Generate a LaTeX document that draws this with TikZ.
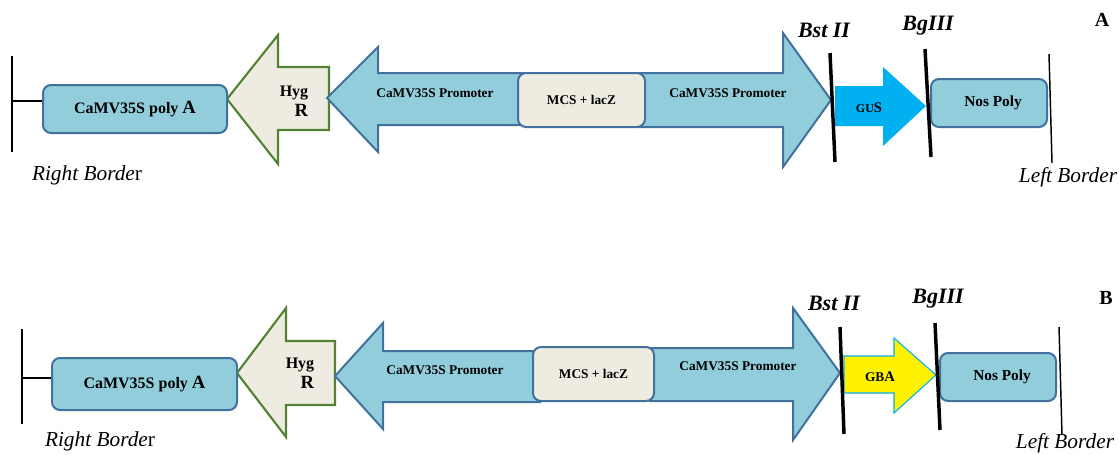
\documentclass[tikz,border=0pt]{standalone}
\usepackage{fontspec}
\setmainfont{Liberation Serif}
\definecolor{aqua}{HTML}{92CDDC}
\definecolor{edgeblue}{HTML}{41719C}
\definecolor{beige}{HTML}{EEECE1}
\definecolor{hyggreen}{HTML}{548235}
\definecolor{gusblue}{HTML}{00B0F0}
\begin{document}
\begin{tikzpicture}[x=0.75pt,y=-0.75pt,
    aquabox/.style={draw=edgeblue,fill=aqua,line width=1.5pt,rounded corners=6pt,inner sep=0pt},
    beigebox/.style={aquabox,fill=beige},
    promo/.style={draw=edgeblue,fill=aqua,line width=1.5pt,line join=miter},
    hyg/.style={draw=hyggreen,fill=beige,line width=1.6pt},
    cutline/.style={line width=2.6pt},
    borderline/.style={line width=1.1pt},
    lbl/.style={font=\bfseries\fontsize{10}{12}\selectfont},
    site/.style={font=\bfseries\itshape\fontsize{16.5}{18}\selectfont},
    brd/.style={font=\itshape\fontsize{16}{18}\selectfont}]
    \useasboundingbox (0,0) rectangle (1119,454);

    % A
    \draw [hyg] (227,99) -- (278,35) -- (278,67) -- (329,67) -- (329,130) -- (278,130) -- (278,164) -- cycle;
    \draw [promo] (327,98) -- (378,47) -- (378,73) -- (525,73) -- (525,125) -- (378,125) -- (378,152) -- cycle;
    \draw [promo] (640,73) -- (783,73) -- (783,33) -- (831,100) -- (783,167) -- (783,127) -- (640,127) -- cycle;
    \fill [gusblue] (835,86) -- (883,86) -- (883,67) -- (926,106) -- (883,146) -- (883,126) -- (835,126) -- cycle;
    \node [aquabox,minimum width=138pt,minimum height=36pt] (polyA) at (135,109)
        {\bfseries\fontsize{12}{14}\selectfont CaMV35S poly {\fontsize{14}{16}\selectfont A}};
    \node [beigebox,minimum width=95.25pt,minimum height=40.5pt] (mcsA) at (581.5,100)
        {\bfseries\fontsize{10}{12}\selectfont MCS + lacZ};
    \node [aquabox,minimum width=87pt,minimum height=36pt] (nosA) at (989,103)
        {\bfseries\fontsize{11.5}{13}\selectfont\hspace*{6pt}Nos Poly};
    \node [lbl,align=right,font=\bfseries\fontsize{12}{15}\selectfont] (hygA) at (294,101)
        {Hyg\\{\fontsize{14}{15}\selectfont R}};
    \node [lbl] (prlA) at (435,93) {CaMV35S Promoter};
    \node [lbl] (prrA) at (728,93) {CaMV35S Promoter};
    \node [lbl,font=\bfseries\fontsize{9}{11}\selectfont] (gusA) at (869,108) {GU{\fontsize{11}{12}\selectfont S}};
    \draw [cutline] (830,53) -- (835,162);
    \draw [cutline] (925,49) -- (931,157);
    \draw [borderline] (1049,54) -- (1052,163);
    \draw [borderline] (12,56) -- (12,152);
    \coordinate (rbA) at (12,101);
    \draw [borderline] (rbA) -- (polyA.west |- rbA);
    \node [site] (bstA) at (824,30) {Bst II};
    \node [site] (bglA) at (928,26) {BgIII};
    \node [brd] (rightA) at (87,175) {Right Borde\upshape r};
    \node [brd] (leftA) at (1068,177) {Left Border};
    \node [font=\bfseries\fontsize{15}{17}\selectfont] (panelA) at (1102,20) {A};

    % B
    \draw [hyg] (237,373) -- (286,308) -- (286,341) -- (335,341) -- (335,405) -- (286,405) -- (286,437) -- cycle;
    \draw [promo] (335,376) -- (383,323) -- (383,351) -- (540,351) -- (540,402) -- (383,402) -- (383,429) -- cycle;
    \draw [promo] (650,348) -- (793,348) -- (793,308) -- (840,373) -- (793,440) -- (793,401) -- (650,401) -- cycle;
    \draw [draw=gusblue,fill=yellow,line width=0.8pt] (844,356) -- (894,356) -- (894,338) -- (936,375) -- (894,413) -- (894,393) -- (844,393) -- cycle;
    \node [aquabox,minimum width=138.75pt,minimum height=39pt] (polyB) at (144.5,384)
        {\bfseries\fontsize{12}{14}\selectfont CaMV35S poly {\fontsize{14}{16}\selectfont A}};
    \node [beigebox,minimum width=90.75pt,minimum height=40.5pt] (mcsB) at (593.5,374)
        {\bfseries\fontsize{10}{12}\selectfont MCS + lacZ};
    \node [aquabox,minimum width=87pt,minimum height=36pt] (nosB) at (998,377)
        {\bfseries\fontsize{11.5}{13}\selectfont\hspace*{6pt}Nos Poly};
    \node [lbl,align=right,font=\bfseries\fontsize{12}{15}\selectfont] (hygB) at (300,373)
        {Hyg\\{\fontsize{14}{15}\selectfont R}};
    \node [lbl] (prlB) at (445,370) {CaMV35S Promoter};
    \node [lbl] (prrB) at (738,366) {CaMV35S Promoter};
    \node [lbl,font=\bfseries\fontsize{10}{12}\selectfont] (gbaB) at (880,377) {GB{\fontsize{11}{12}\selectfont A}};
    \draw [cutline] (840,327) -- (844,434);
    \draw [cutline] (935,323) -- (940,430);
    \draw [borderline] (1059,327) -- (1062,435);
    \draw [borderline] (22,329) -- (22,424);
    \coordinate (rbB) at (22,378);
    \draw [borderline] (rbB) -- (polyB.west |- rbB);
    \node [site] (bstB) at (834,303) {Bst II};
    \node [site] (bglB) at (938,299) {BgIII};
    \node [brd] (rightB) at (100,441) {Right Borde\upshape r};
    \node [brd] (leftB) at (1065,443) {Left Border};
    \node [font=\bfseries\fontsize{15}{17}\selectfont] (panelB) at (1106,298) {B};
\end{tikzpicture}
\end{document}
